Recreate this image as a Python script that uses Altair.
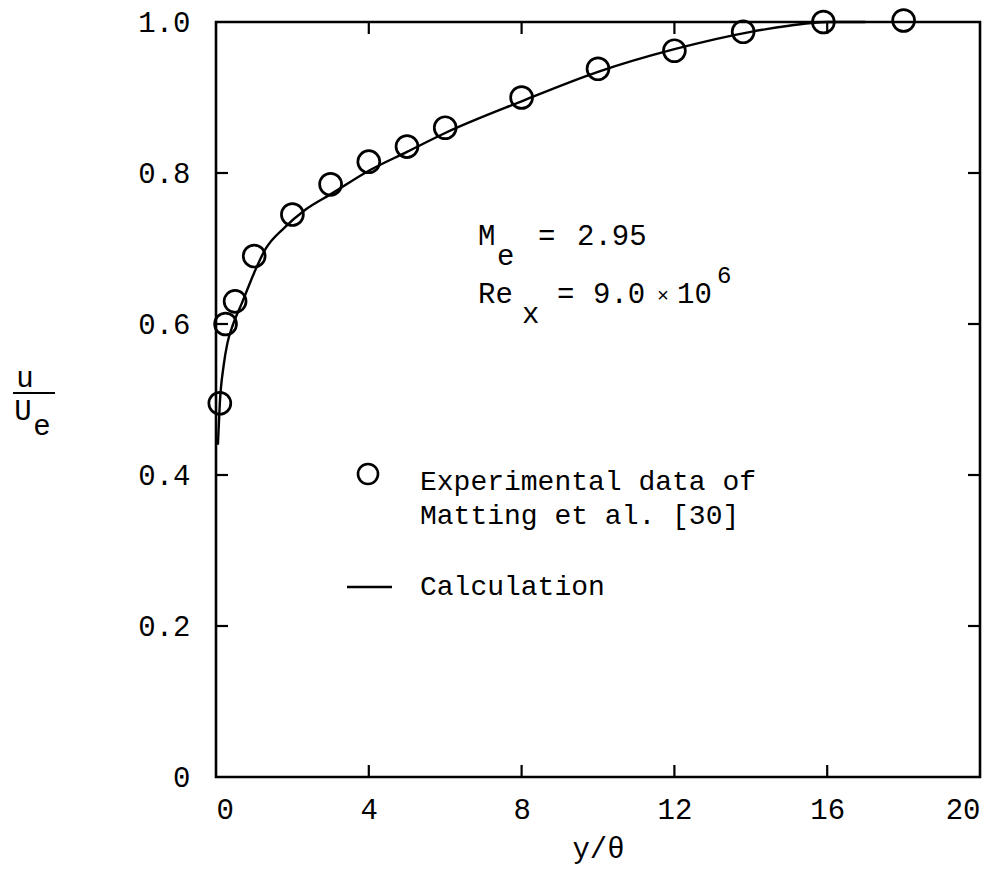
import altair as alt
import pandas as pd

# Experimental data (circles)
EXP_X = [0.1, 0.25, 0.5, 1.0, 2.0, 3.0, 4.0, 5.0, 6.0, 8.0, 10.0, 12.0, 13.8, 15.9, 18.0]
EXP_Y = [0.495, 0.60, 0.63, 0.69, 0.745, 0.785, 0.815, 0.835, 0.86, 0.90, 0.938, 0.962, 0.987, 1.0, 1.002]

# Calculation (solid line)
CALC_X = [0.05, 0.1, 0.2, 0.3, 0.45, 0.68, 1.0, 1.28, 1.8, 2.33, 3.04, 4.0, 5.0, 6.0,
          8.0, 10.0, 12.0, 14.0, 15.0, 16.0, 17.0]
CALC_Y = [0.44, 0.495, 0.545, 0.575, 0.60, 0.628, 0.668, 0.698, 0.728, 0.751, 0.773, 0.803,
          0.828, 0.853, 0.895, 0.934, 0.964, 0.987, 0.995, 1.0, 1.0]

X_LABELS = [0, 4, 8, 12, 16, 20]
Y_LABELS = [0, 0.2, 0.4, 0.6, 0.8, 1.0]
X_INNER_TICKS = [4, 8, 12, 16]
Y_INNER_TICKS = [0.2, 0.4, 0.6, 0.8]

FONT = "Liberation Mono"
W, H = 764, 755
FS = 29

xs = alt.Scale(domain=[0, 20], nice=False, zero=False)
ys = alt.Scale(domain=[0, 1], nice=False, zero=False)

exp_df = pd.DataFrame({"x": EXP_X, "y": EXP_Y})
calc_df = pd.DataFrame({"x": CALC_X, "y": CALC_Y})

line = alt.Chart(calc_df).mark_line(color="black", strokeWidth=2.4, interpolate="monotone").encode(
    x=alt.X("x:Q", scale=xs,
            axis=alt.Axis(values=X_LABELS, ticks=False, domain=False, grid=False,
                          labelFont=FONT, labelFontSize=FS, labelColor="black",
                          labelPadding=18, title="y/θ", titleFont=FONT,
                          titleFontSize=FS, titleFontWeight="normal", titleColor="black",
                          titlePadding=10)),
    y=alt.Y("y:Q", scale=ys,
            axis=alt.Axis(values=Y_LABELS, ticks=False, domain=False, grid=False,
                          labelFont=FONT, labelFontSize=FS, labelColor="black",
                          labelPadding=26,
                          labelExpr="datum.value == 0 ? '0' : format(datum.value, '.1f')",
                          title=None)),
)

points = alt.Chart(exp_df).mark_point(shape="circle", filled=False, color="black",
                                      strokeWidth=2.7, size=480, opacity=1).encode(
    x=alt.X("x:Q", scale=xs), y=alt.Y("y:Q", scale=ys))

tick_style = dict(color="black", strokeWidth=2.2)
xt = pd.DataFrame({"v": X_INNER_TICKS})
yt = pd.DataFrame({"v": Y_INNER_TICKS})
xt_bottom = alt.Chart(xt).mark_rule(**tick_style).encode(
    x=alt.X("v:Q", scale=xs), y=alt.value(H), y2=alt.value(H - 12))
xt_top = alt.Chart(xt).mark_rule(**tick_style).encode(
    x=alt.X("v:Q", scale=xs), y=alt.value(0), y2=alt.value(12))
yt_left = alt.Chart(yt).mark_rule(**tick_style).encode(
    y=alt.Y("v:Q", scale=ys), x=alt.value(0), x2=alt.value(12))
yt_right = alt.Chart(yt).mark_rule(**tick_style).encode(
    y=alt.Y("v:Q", scale=ys), x=alt.value(W - 12), x2=alt.value(W))


def txt(s, x, y, size=FS, align="left"):
    return alt.Chart(pd.DataFrame({"t": [s]})).mark_text(
        font=FONT, fontSize=size, color="black", align=align, baseline="middle"
    ).encode(text="t:N", x=alt.value(x), y=alt.value(y))


annot = [
    txt("M", 262, 214), txt("e", 281, 234), txt("=", 322, 214), txt("2.95", 361, 214),
    txt("Re", 262, 272), txt("x", 306, 292), txt("=", 341, 272), txt("9.0", 377, 272),
    txt("×", 441, 274, size=20), txt("10", 461, 272), txt("6", 501, 254, size=24),
    # legend
    txt("Experimental data of", 204, 460, size=28), txt("Matting et al. [30]", 204, 494, size=28),
    txt("Calculation", 204, 565, size=28),
    # y axis title
    txt("u", -191, 356, align="center"), txt("U", -193, 389, align="center"),
    txt("e", -174, 404, align="center"),
]

leg_circle = alt.Chart(pd.DataFrame({"t": [0]})).mark_point(
    shape="circle", filled=False, color="black", strokeWidth=2.6, size=400, opacity=1
).encode(x=alt.value(152), y=alt.value(452))
leg_line = alt.Chart(pd.DataFrame({"t": [0]})).mark_rule(color="black", strokeWidth=2.4).encode(
    x=alt.value(131), x2=alt.value(176), y=alt.value(565))
frac_bar = alt.Chart(pd.DataFrame({"t": [0]})).mark_rule(color="black", strokeWidth=2).encode(
    x=alt.value(-203), x2=alt.value(-161), y=alt.value(371))

chart = alt.layer(
    line, points, xt_bottom, xt_top, yt_left, yt_right, leg_circle, leg_line, frac_bar, *annot
).properties(
    width=W, height=H,
    autosize=alt.AutoSizeParams(type="none"),
    padding={"left": 216, "top": 22, "right": 22, "bottom": 94},
    background="white",
).configure_view(stroke="black", strokeWidth=2.6)

chart.save("out.html", embed_options={"renderer": "svg", "actions": False})
